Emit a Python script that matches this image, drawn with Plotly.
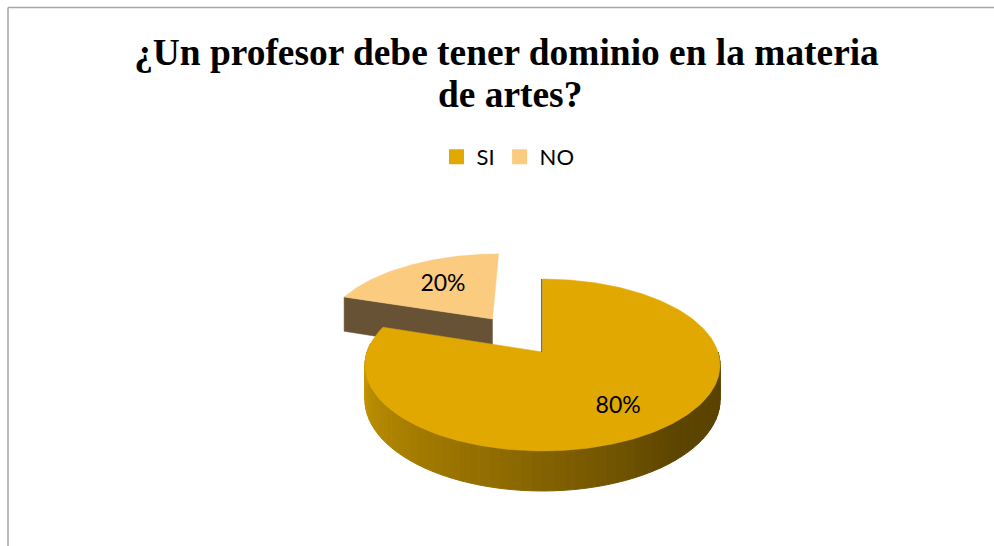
import math
import plotly.graph_objects as go

# Data
categories = ["SI", "NO"]
values = [80, 20]
colors = ["#E0A800", "#FBCB80"]
title_lines = ["¿Un profesor debe tener dominio en la materia", "de artes?"]

# Pie geometry (projection of a tilted disc onto the page)
CX, CY = 542.5, 352.0
RX, RY = 175.5, 84.0
PERSP = 0.151
DEPTH = 34.0
DEPTH_EXPLODED = 38.0
EXPLODE = {"NO": 0.516}


def project(X, Y, z=0.0):
    w = 1 + PERSP * Y
    return CX + RX * X / w, CY - RY * Y / w + z / w


def slices():
    out = []
    start = 0.0
    total = sum(values)
    for name, v in zip(categories, values):
        out.append((name, start, start + 360.0 * v / total))
        start += 360.0 * v / total
    return out


def rim(a0, a1, ex, ey, z=0.0, step=1.0):
    n = max(2, int(abs(a1 - a0) / step) + 1)
    pts = []
    for i in range(n + 1):
        t = math.radians(a0 + (a1 - a0) * i / n)
        pts.append(project(ex + math.sin(t), ey + math.cos(t), z))
    return pts


def mix(stops, f):
    for (f0, c0), (f1, c1) in zip(stops, stops[1:]):
        if f <= f1:
            k = (f - f0) / (f1 - f0) if f1 > f0 else 0
            return "rgb(%d,%d,%d)" % tuple(round(a + (b - a) * k) for a, b in zip(c0, c1))
    return "rgb(%d,%d,%d)" % stops[-1][1]


def poly(fig, pts, color, lw=0.0):
    fig.add_trace(go.Scatter(
        x=[p[0] for p in pts] + [pts[0][0]],
        y=[p[1] for p in pts] + [pts[0][1]],
        mode="lines", fill="toself", fillcolor=color,
        line=dict(color=color, width=lw),
        hoverinfo="skip", showlegend=False))


fig = go.Figure()
wall_stops = [(0.0, (200, 152, 0)), (0.12, (190, 145, 0)), (0.45, (145, 108, 0)),
              (0.75, (92, 69, 0)), (1.0, (88, 66, 0))]

for name, a0, a1 in reversed(slices()):
    mid = math.radians((a0 + a1) / 2)
    e = EXPLODE.get(name, 0.0)
    ex, ey = e * math.sin(mid), e * math.cos(mid)
    apex = project(ex, ey)
    color = colors[categories.index(name)]
    if name == "NO":
        left_top = rim(a0, a0, ex, ey)[0]
        left_low = rim(a0, a0, ex, ey, DEPTH_EXPLODED)[0]
        apex_low = project(ex, ey, DEPTH_EXPLODED)
        poly(fig, [left_top, apex, apex_low, left_low], "#675235", 0.5)
    else:
        strip = 3.0
        a = 90.0
        lo, hi = 90.0, min(a1, 276.0)
        while a < hi:
            b = min(a + strip, hi)
            top = rim(a, b, ex, ey, 0.0, 1.0)
            low = rim(b, a, ex, ey, DEPTH, 1.0)
            f = 1 - (a - lo) / (hi - lo)
            poly(fig, top + low, mix(wall_stops, f), 1.0)
            a = b
    poly(fig, [apex] + rim(a0, a1, ex, ey), color, 0.5)
    if name == "SI":
        edge = rim(a0, a0, ex, ey)[0]
        fig.add_trace(go.Scatter(
            x=[edge[0] - 0.8, apex[0] - 0.8], y=[edge[1], apex[1]], mode="lines",
            line=dict(color="#7A6010", width=1.2), hoverinfo="skip", showlegend=False))

# Percentage labels
label_pos = {"SI": (0.392, -0.60), "NO": (-0.645, 0.91)}
total = sum(values)
for name, v in zip(categories, values):
    X, Y = label_pos[name]
    px, py = project(X, Y)
    fig.add_trace(go.Scatter(
        x=[px], y=[py], mode="text", text=["%d%%" % round(100 * v / total)],
        textposition="middle center", textfont=dict(family="Lato, Open Sans", size=23, color="#000000"),
        hoverinfo="skip", showlegend=False))

# Legend entries
for name, c in zip(categories, colors):
    fig.add_trace(go.Scatter(
        x=[None], y=[None], mode="markers", name=name,
        marker=dict(symbol="square", size=15, color=c)))

TITLE_FONT = dict(family="Liberation Serif", size=37.4, color="#000000")
fig.update_layout(
    width=994, height=546, margin=dict(l=0, r=0, t=0, b=0),
    paper_bgcolor="white", plot_bgcolor="white",
    xaxis=dict(range=[0, 994], visible=False, fixedrange=True),
    yaxis=dict(range=[546, 0], visible=False, fixedrange=True),
    title=dict(text="<b>%s</b>" % title_lines[0], x=506.5 / 994, xanchor="center",
               y=1 - 52 / 546, yanchor="middle", font=TITLE_FONT),
    annotations=[dict(text="<b>%s</b>" % title_lines[1], xref="paper", yref="paper",
                      x=510 / 994, y=1 - 94 / 546, xanchor="center", yanchor="middle",
                      showarrow=False, font=TITLE_FONT)],
    legend=dict(orientation="h", x=508 / 994, xanchor="center", y=1 - 157 / 546, yanchor="middle",
                font=dict(family="Lato, Open Sans", size=22, color="#000000"),
                itemwidth=30, traceorder="normal"),
    shapes=[
        dict(type="line", xref="x", yref="y", x0=8, x1=8, y0=7.5, y1=546, line=dict(color="#A6A6A6", width=1.5)),
        dict(type="line", xref="x", yref="y", x0=8, x1=994, y0=7.5, y1=7.5, line=dict(color="#A6A6A6", width=1.5)),
    ],
)
fig.write_html("out.html", config={"displayModeBar": False},
               post_script="document.body.style.margin='0';document.documentElement.style.overflow='hidden';")
